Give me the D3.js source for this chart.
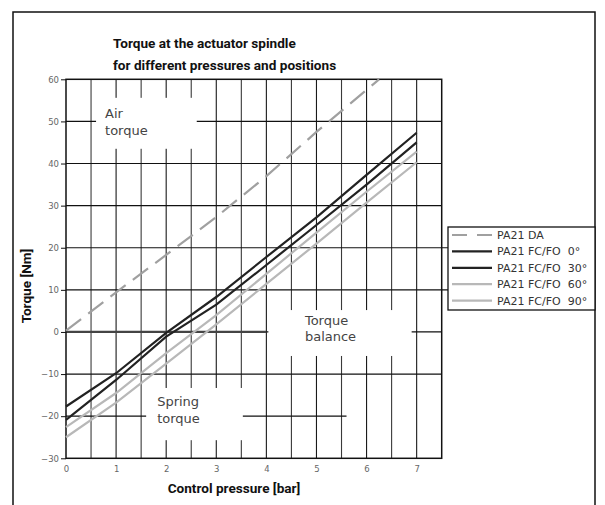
<!DOCTYPE html>
<html lang="en">
<head>
<meta charset="UTF-8">
<title>Torque at the actuator spindle</title>
<script src="https://d3js.org/d3.v7.min.js"></script>
<style>
  body { margin: 0; background: #fff; }
  svg { display: block; }
</style>
</head>
<body>
<script>
const width = 605
const height = 505

// data (bar -> Nm)
const pressure = [0, 1, 2, 3, 4, 5, 6, 7]
const fc0  = [-17.7, -9.8, -0.2, 8.3, 17.8, 27.2, 37.3, 47.3]
const fc30 = [-20.9, -11.4, -1.1, 6.5, 15.9, 25.4, 35.0, 45.0]
const fc60 = [-22.6, -14.5, -5.0, 4.0, 13.8, 23.6, 33.3, 42.8]
const fc90 = [-25.0, -16.8, -7.5, 1.8, 11.4, 21.0, 30.7, 40.3]
const daPressure = [0, 1, 2, 3, 4, 5, 6, 6.25]
const da = [0.3, 9.4, 18.3, 27.3, 37.0, 47.5, 57.5, 60]

const seriesNames = ["PA21 DA", "PA21 FC/FO\u00a0\u00a00°", "PA21 FC/FO\u00a0\u00a030°", "PA21 FC/FO\u00a0\u00a060°", "PA21 FC/FO\u00a0\u00a090°"]
const xTicks = [0, 1, 2, 3, 4, 5, 6, 7]
const yTicks = [-30, -20, -10, 0, 10, 20, 30, 40, 50, 60]

// label boxes that cut the grid (data units)
const boxes = [
  {x0: 0.6, x1: 2.61, y0: 43.5, y1: 55.6, lines: ["Air", "torque"], tx: 0.78, ty: 50.8},
  {x0: 4.04, x1: 6.9, y0: -5.7, y1: 5.2, lines: ["Torque", "balance"], tx: 4.77, ty: 1.66},
  {x0: 1.6, x1: 3.53, y0: -25.7, y1: -13.3, lines: ["Spring", "torque"], tx: 1.82, ty: -17.6}
]

const x = d3.scaleLinear().domain([0, 7.5]).range([66, 441.7])
const y = d3.scaleLinear().domain([-30, 60]).range([458.3, 79.3])

const svg = d3.select("body").append("svg")
  .attr("width", width).attr("height", height)
  .style("font-family", "'DejaVu Sans', sans-serif")

// outer frame (open at the bottom)
svg.append("path")
  .attr("d", `M13,${height} V12 H595 V${height}`)
  .attr("fill", "none").attr("stroke", "#111").attr("stroke-width", 1.5)

// title
svg.append("text").attr("x", 113).attr("y", 48)
  .attr("font-family", "Roboto").attr("font-weight", 700).attr("font-size", 13.6)
  .attr("fill", "#111").text("Torque at the actuator spindle")
svg.append("text").attr("x", 113).attr("y", 70)
  .attr("font-family", "Roboto").attr("font-weight", 700).attr("font-size", 13.6)
  .attr("fill", "#111").text("for different pressures and positions")

const grid = svg.append("g")

// vertical grid every 0.5 bar
d3.range(0.5, 7.5, 0.5).forEach(v => {
  grid.append("line")
    .attr("x1", x(v)).attr("x2", x(v)).attr("y1", y(60)).attr("y2", y(-30))
    .attr("stroke", v % 1 === 0 ? "#1a1a1a" : "#3a3a3a").attr("stroke-width", 1.1)
})

// horizontal grid
yTicks.forEach(v => {
  if (v === 0 || v === -30 || v === 60) return
  let xEnd = x(7.5)
  if (v === 10 || v === 20) xEnd = 448
  if (v === -20) xEnd = x(5.6)
  grid.append("line")
    .attr("x1", x(0)).attr("x2", xEnd).attr("y1", y(v)).attr("y2", y(v))
    .attr("stroke", "#111").attr("stroke-width", 1.2)
})

// zero line: heavy up to 4 bar, thin after
grid.append("line").attr("x1", x(0)).attr("x2", x(4)).attr("y1", y(0)).attr("y2", y(0))
  .attr("stroke", "#444").attr("stroke-width", 2.2)
grid.append("line").attr("x1", x(4)).attr("x2", x(7.5)).attr("y1", y(0)).attr("y2", y(0))
  .attr("stroke", "#111").attr("stroke-width", 1.2)

// white boxes behind labels
svg.append("g").selectAll("rect").data(boxes).join("rect")
  .attr("x", d => x(d.x0)).attr("y", d => y(d.y1))
  .attr("width", d => x(d.x1) - x(d.x0)).attr("height", d => y(d.y0) - y(d.y1))
  .attr("fill", "#fff")

// plot border
svg.append("rect")
  .attr("x", x(0)).attr("y", y(60)).attr("width", x(7.5) - x(0)).attr("height", y(-30) - y(60))
  .attr("fill", "none").attr("stroke", "#111").attr("stroke-width", 1.5)

// axes
const yAxis = d3.axisLeft(y).tickValues(yTicks).tickSize(5).tickPadding(2)
const gy = svg.append("g").attr("transform", `translate(${x(0)},0)`).call(yAxis)
gy.select(".domain").remove()
gy.selectAll(".tick line").attr("stroke", "#111")
gy.selectAll(".tick text").attr("fill", "#666").attr("font-size", 8.5)
  .attr("font-family", "'DejaVu Sans', sans-serif")

const xAxis = d3.axisBottom(x).tickValues(xTicks).tickSize(0).tickPadding(8)
const gx = svg.append("g").attr("transform", `translate(0,${y(-30)})`).call(xAxis)
gx.select(".domain").remove()
gx.selectAll(".tick text").attr("fill", "#666").attr("font-size", 8.5)
  .attr("font-family", "'DejaVu Sans', sans-serif")

// axis titles
svg.append("text").attr("x", 234).attr("y", 493).attr("text-anchor", "middle")
  .attr("font-family", "Roboto").attr("font-weight", 700).attr("font-size", 13.6)
  .attr("fill", "#111").text("Control pressure [bar]")
svg.append("text").attr("transform", "translate(31,286) rotate(-90)").attr("text-anchor", "middle")
  .attr("font-family", "Roboto").attr("font-weight", 700).attr("font-size", 13.6)
  .attr("fill", "#111").text("Torque [Nm]")

// series
const line = d3.line().x(d => x(d[0])).y(d => y(d[1]))
const styles = [
  {color: "#a0a0a0", dash: "19,9"},
  {color: "#222", dash: null},
  {color: "#222", dash: null},
  {color: "#b8b8b8", dash: null},
  {color: "#b8b8b8", dash: null}
]
const series = [
  d3.zip(daPressure, da),
  d3.zip(pressure, fc0),
  d3.zip(pressure, fc30),
  d3.zip(pressure, fc60),
  d3.zip(pressure, fc90)
]
svg.append("g").selectAll("path").data(series).join("path")
  .attr("d", line)
  .attr("fill", "none")
  .attr("stroke", (d, i) => styles[i].color)
  .attr("stroke-width", 2.2)
  .attr("stroke-dasharray", (d, i) => styles[i].dash)

// label texts
const lbl = svg.append("g").selectAll("text").data(boxes).join("text")
  .attr("x", d => x(d.tx)).attr("y", d => y(d.ty))
  .attr("font-family", "'DejaVu Sans', sans-serif").attr("font-size", 13)
  .attr("fill", "#444")
lbl.selectAll("tspan").data(d => d.lines.map(t => ({t, x: x(d.tx)}))).join("tspan")
  .attr("x", d => d.x).attr("dy", (d, i) => i === 0 ? 0 : 16.5).text(d => d.t)

// legend
const lg = svg.append("g")
lg.append("rect").attr("x", 448).attr("y", 227).attr("width", 147).attr("height", 83)
  .attr("fill", "#fff").attr("stroke", "#111").attr("stroke-width", 1.3)
seriesNames.forEach((name, i) => {
  const cy = 235 + i * 16.4
  lg.append("line").attr("x1", 452).attr("x2", 492).attr("y1", cy).attr("y2", cy)
    .attr("stroke", styles[i].color).attr("stroke-width", 2.2)
    .attr("stroke-dasharray", i === 0 ? "15,10" : null)
  lg.append("text").attr("x", 497).attr("y", cy + 4).attr("font-size", 11)
    .attr("fill", "#333").text(name)
})
</script>
</body>
</html>
